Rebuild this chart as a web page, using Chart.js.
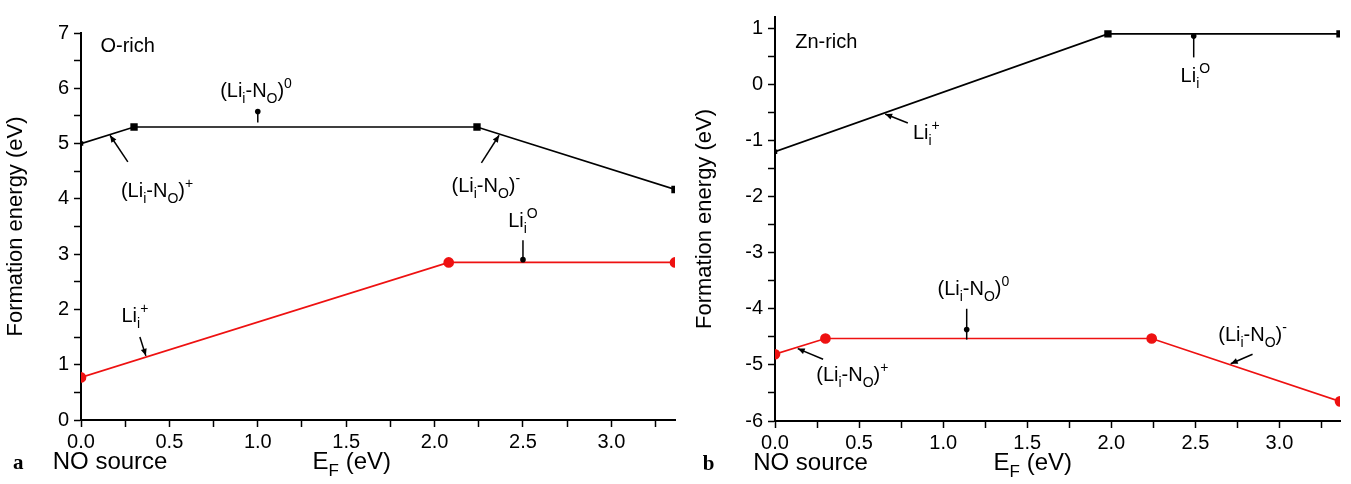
<!DOCTYPE html>
<html>
<head>
<meta charset="utf-8">
<script src="https://cdn.jsdelivr.net/npm/chart.js@4.4.1/dist/chart.umd.min.js"></script>
<style>
    html, body { margin: 0; padding: 0; background: #fff; }
    .panel { position: absolute; top: 0; height: 484px; }
    #pa { left: 0; width: 690px; }
    #pb { left: 690px; width: 661px; }
</style>
</head>
<body>
<div class="panel" id="pa"><canvas id="chartA"></canvas></div>
<div class="panel" id="pb"><canvas id="chartB"></canvas></div>
<script>
const $ = id => document.getElementById(id);

// panel a, O-rich (Fermi level in eV, formation energy in eV)
const efA_black = [0, 0.3, 2.24, 3.36];
const eA_black = [5.0, 5.3, 5.3, 4.17];
const efA_red = [0, 2.08, 3.36];
const eA_red = [0.77, 2.85, 2.85];

// panel b, Zn-rich
const efB_black = [0, 1.98, 3.36];
const eB_black = [-1.2, 0.9, 0.9];
const efB_red = [0, 0.3, 2.24, 3.36];
const eB_red = [-4.81, -4.53, -4.53, -5.65];

// tick labels
const xLabels = [0, 0.5, 1, 1.5, 2, 2.5, 3];
const yLabelsA = [0, 1, 2, 3, 4, 5, 6, 7];
const yLabelsB = [-6, -5, -4, -3, -2, -1, 0, 1];

const SANS = '"Liberation Sans", Arial, sans-serif';

const liNO = sign => [["(Li"], ["i", "sub"], ["-N"], ["O", "sub"], [")"], [sign, "sup"]];
const liI = sign => [["Li"], ["i", "sub"], [sign, "sup"]];
const eF = [["E"], ["F", "sub"], [" (eV)"]];

const notesA = {
    labels: [
        { text: [["O-rich"]], x: 0.11, y: 6.65, align: "left" },
        { text: liNO("0"), x: 0.99, y: 5.84 },
        { text: liNO("+"), x: 0.43, y: 4.03 },
        { text: liNO("-"), x: 2.29, y: 4.12 },
        { text: liI("O"), x: 2.5, y: 3.49 },
        { text: liI("+"), x: 0.305, y: 1.77 }
    ],
    arrows: [
        { from: [0.265, 4.67], to: [0.164, 5.15], head: "arrow" },
        { from: [2.265, 4.65], to: [2.365, 5.15], head: "arrow" },
        { from: [1.0, 5.38], to: [1.0, 5.58], head: "dot" },
        { from: [2.5, 3.25], to: [2.5, 2.9], head: "dot" },
        { from: [0.333, 1.5], to: [0.367, 1.16], head: "arrow" }
    ],
    footer: [
        { text: [["a"]], x: -0.385, font: 'bold 21px "Liberation Serif", serif' },
        { text: [["NO source"]], x: -0.16, size: 24 },
        { text: eF, x: 1.31, size: 24 }
    ]
};

const notesB = {
    labels: [
        { text: [["Zn-rich"]], x: 0.12, y: 0.65, align: "left" },
        { text: liI("+"), x: 0.9, y: -0.97 },
        { text: liI("O"), x: 2.5, y: 0.04 },
        { text: liNO("0"), x: 1.18, y: -3.76 },
        { text: liNO("+"), x: 0.46, y: -5.28 },
        { text: liNO("-"), x: 2.84, y: -4.58 }
    ],
    arrows: [
        { from: [0.79, -0.69], to: [0.655, -0.53], head: "arrow" },
        { from: [2.49, 0.48], to: [2.49, 0.86], head: "dot" },
        { from: [1.14, -4.0], to: [1.14, -4.37], head: "dot" },
        { from: [1.14, -4.37], to: [1.14, -4.55], head: "none" },
        { from: [0.286, -4.9], to: [0.135, -4.71], head: "arrow" },
        { from: [2.84, -4.81], to: [2.71, -4.98], head: "arrow" }
    ],
    footer: [
        { text: [["b"]], x: -0.43, font: 'bold 21px "Liberation Serif", serif' },
        { text: [["NO source"]], x: -0.13, size: 24 },
        { text: eF, x: 1.30, size: 24 }
    ]
};

function drawRich(ctx, parts, x, y, size, align, font) {
    const small = Math.round(size * 0.72);
    const fontOf = k => font || `${k ? small : size}px ${SANS}`;
    const widths = parts.map(([t, k]) => {
        ctx.font = fontOf(k);
        return ctx.measureText(t).width;
    });
    const total = widths.reduce((s, w) => s + w, 0);
    let cx = align === "left" ? x : x - total / 2;
    parts.forEach(([t, k], i) => {
        ctx.font = fontOf(k);
        const dy = k === "sub" ? size * 0.3 : k === "sup" ? -size * 0.45 : 0;
        ctx.fillText(t, cx, y + dy);
        cx += widths[i];
    });
}

function drawArrow(ctx, x1, y1, x2, y2, head) {
    ctx.beginPath();
    ctx.moveTo(x1, y1);
    ctx.lineTo(x2, y2);
    ctx.stroke();
    if (head === "dot") {
        ctx.beginPath();
        ctx.arc(x2, y2, 2.8, 0, 2 * Math.PI);
        ctx.fill();
    } else if (head === "arrow") {
        const a = Math.atan2(y2 - y1, x2 - x1);
        const L = 7, W = 3;
        ctx.beginPath();
        ctx.moveTo(x2, y2);
        ctx.lineTo(x2 - L * Math.cos(a) + W * Math.sin(a), y2 - L * Math.sin(a) - W * Math.cos(a));
        ctx.lineTo(x2 - L * Math.cos(a) - W * Math.sin(a), y2 - L * Math.sin(a) + W * Math.cos(a));
        ctx.closePath();
        ctx.fill();
    }
}

const notesPlugin = {
    id: "notes",
    afterDraw(chart, args, opts) {
        const { ctx, chartArea } = chart;
        const { x, y } = chart.scales;
        ctx.save();
        ctx.fillStyle = "#000";
        ctx.strokeStyle = "#000";
        ctx.lineWidth = 1.5;
        ctx.textBaseline = "alphabetic";
        opts.labels.forEach(l => {
            drawRich(ctx, l.text, x.getPixelForValue(l.x), y.getPixelForValue(l.y), 20, l.align);
        });
        opts.arrows.forEach(a => {
            drawArrow(ctx,
                x.getPixelForValue(a.from[0]), y.getPixelForValue(a.from[1]),
                x.getPixelForValue(a.to[0]), y.getPixelForValue(a.to[1]), a.head);
        });
        opts.footer.forEach(f => {
            drawRich(ctx, f.text, x.getPixelForValue(f.x), chartArea.bottom + 49, f.size || 20, "left", f.font);
        });
        ctx.restore();
    }
};

const pts = (xs, ys) => xs.map((v, i) => ({ x: v, y: ys[i] }));

function criarPainel(id, cfg) {
    const grid = {
        drawOnChartArea: false,
        drawTicks: true,
        tickLength: 7,
        color: "#000",
        tickWidth: 1.5
    };
    new Chart($(id), {
        type: "line",
        data: {
            datasets: [
                {
                    data: pts(cfg.blackX, cfg.blackY),
                    borderColor: "#000",
                    backgroundColor: "#000",
                    borderWidth: 1.7,
                    pointStyle: "rect",
                    pointRadius: cfg.blackX.map((v, i) => i === 0 ? 2 : 4)
                },
                {
                    data: pts(cfg.redX, cfg.redY),
                    borderColor: "#ee1111",
                    backgroundColor: "#ee1111",
                    borderWidth: 1.7,
                    pointStyle: "circle",
                    pointRadius: 4.5
                }
            ]
        },
        options: {
            responsive: true,
            maintainAspectRatio: false,
            animation: false,
            events: [],
            layout: { padding: cfg.padding },
            plugins: {
                legend: { display: false },
                tooltip: { enabled: false },
                notes: cfg.notes
            },
            scales: {
                x: {
                    type: "linear",
                    min: 0,
                    max: 3.36,
                    afterFit: s => { s.height = cfg.xHeight; },
                    border: { color: "#000", width: 2 },
                    grid,
                    ticks: {
                        stepSize: 0.25,
                        includeBounds: false,
                        autoSkip: false,
                        maxRotation: 0,
                        padding: 3,
                        color: "#000",
                        font: { family: SANS, size: 20 },
                        callback: v => xLabels.some(l => Math.abs(l - v) < 1e-6) ? v.toFixed(1) : ""
                    }
                },
                y: {
                    min: cfg.yMin,
                    max: cfg.yMax,
                    afterFit: s => { s.width = cfg.yWidth; },
                    border: { color: "#000", width: 2 },
                    grid,
                    title: {
                        display: true,
                        text: "Formation energy (eV)",
                        color: "#000",
                        font: { family: SANS, size: 22 },
                        padding: { top: cfg.titlePad, bottom: 0 }
                    },
                    ticks: {
                        stepSize: 0.5,
                        includeBounds: false,
                        autoSkip: false,
                        padding: 5,
                        color: "#000",
                        font: { family: SANS, size: 20 },
                        callback: v => cfg.yLabels.some(l => Math.abs(l - v) < 1e-6) ? String(v) : ""
                    }
                }
            }
        },
        plugins: [notesPlugin]
    });
}

criarPainel("chartA", {
    blackX: efA_black, blackY: eA_black,
    redX: efA_red, redY: eA_red,
    yMin: 0, yMax: 7, yLabels: yLabelsA,
    padding: { left: 0, top: 33, right: 15, bottom: 0 },
    yWidth: 81, xHeight: 64, titlePad: 3,
    notes: notesA
});

criarPainel("chartB", {
    blackX: efB_black, blackY: eB_black,
    redX: efB_red, redY: eB_red,
    yMin: -6, yMax: 1.2, yLabels: yLabelsB,
    padding: { left: 0, top: 8, right: 11, bottom: 0 },
    yWidth: 85, xHeight: 63, titlePad: 2,
    notes: notesB
});
</script>
</body>
</html>
